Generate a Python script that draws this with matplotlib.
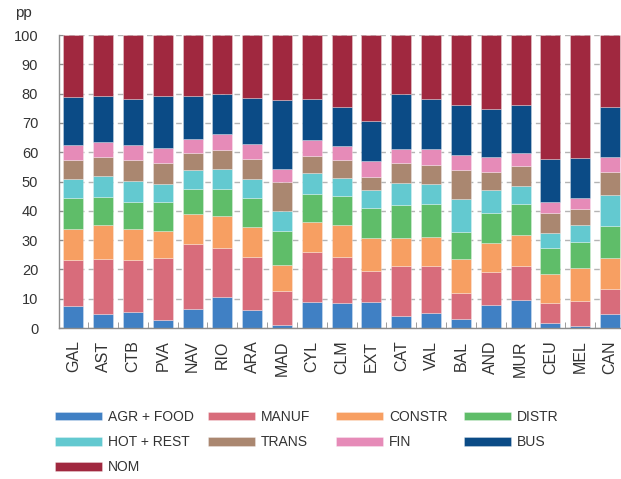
import matplotlib
matplotlib.use("Agg")
import matplotlib.pyplot as plt
import numpy as np

plt.rcParams['font.family'] = ['Liberation Sans', 'DejaVu Sans']

# regions and sector contributions (pp)
regions = ["GAL", "AST", "CTB", "PVA", "NAV", "RIO", "ARA", "MAD", "CYL", "CLM",
           "EXT", "CAT", "VAL", "BAL", "AND", "MUR", "CEU", "MEL", "CAN"]
sectors = ["AGR + FOOD", "MANUF", "CONSTR", "DISTR", "HOT + REST",
           "TRANS", "FIN", "BUS", "NOM"]
colors = ["#4080c4", "#d86c7b", "#f79f62", "#5fbd69", "#63c9d0",
          "#aa8770", "#e68bb8", "#0b4b86", "#a0283f"]

agr = [7.6, 4.7, 5.6, 2.8, 6.6, 10.5, 6.0, 1.0, 9.0, 8.5, 8.9, 4.1, 5.1, 3.1, 7.8, 9.5, 1.7, 0.6, 4.7]
manuf = [15.7, 18.8, 17.7, 21.1, 21.9, 16.7, 18.4, 11.5, 16.8, 15.7, 10.4, 17.0, 15.9, 8.9, 11.2, 11.5, 6.9, 8.6, 8.5]
constr = [10.6, 11.5, 10.6, 9.3, 10.5, 11.0, 10.0, 9.1, 10.3, 10.9, 11.5, 9.5, 10.0, 11.6, 10.1, 10.8, 9.8, 11.3, 10.7]
distr = [10.5, 9.7, 9.1, 9.8, 8.4, 9.4, 10.1, 11.6, 9.8, 9.9, 10.0, 11.3, 11.3, 9.0, 10.1, 10.5, 8.9, 8.9, 10.9]
hot = [6.4, 7.2, 7.2, 6.2, 6.5, 6.8, 6.4, 6.6, 7.1, 6.1, 6.2, 7.6, 6.8, 11.4, 8.0, 6.1, 5.2, 5.7, 10.7]
trans = [6.6, 6.6, 7.0, 7.1, 5.9, 6.2, 6.9, 10.0, 5.8, 6.3, 4.5, 6.8, 6.6, 9.8, 6.0, 6.9, 6.7, 5.5, 7.9]
fin = [5.0, 5.1, 5.1, 5.0, 4.6, 5.5, 5.0, 4.4, 5.3, 4.8, 5.4, 4.7, 5.3, 5.1, 5.0, 4.4, 3.9, 3.8, 4.9]
bus = [16.4, 15.7, 15.8, 18.0, 14.9, 13.8, 15.6, 23.5, 14.2, 13.1, 13.7, 18.9, 17.1, 17.2, 16.5, 16.3, 14.5, 13.6, 17.0]
nom = [21.2, 20.7, 21.9, 20.7, 20.7, 20.1, 21.6, 22.3, 21.7, 24.7, 29.4, 20.1, 21.9, 23.9, 25.3, 24.0, 42.4, 42.0, 24.7]

series = [agr, manuf, constr, distr, hot, trans, fin, bus, nom]
yticks = list(range(0, 101, 10))

txt = "#333333"
spine_col = "#8c8c8c"

fig = plt.figure(figsize=(6.21, 4.79), dpi=100)
ax = fig.add_axes([59 / 621, 151 / 479, 1 - 59 / 621, 293 / 479])

x = np.arange(len(regions))
bottom = np.zeros(len(regions))
for vals, name, col in zip(series, sectors, colors):
    vals = np.array(vals)
    ax.bar(x, vals, width=0.67, bottom=bottom, color=col, label=name,
           edgecolor=(1, 1, 1, 0.5), linewidth=0.4, zorder=2)
    bottom += vals

ax.set_xlim(-0.48, 18.37)
ax.set_ylim(0, 100)
ax.set_yticks(yticks)
ax.set_xticks(x)
ax.set_xticklabels(regions, rotation=90, fontsize=11.5, color=txt)
ax.set_xticks(x[:-1] + 0.5, minor=True)
ax.tick_params(axis='x', which='major', length=0, pad=9)
ax.tick_params(axis='x', which='minor', direction='in', length=4, color=spine_col)
ax.tick_params(axis='y', direction='in', length=3, color=spine_col,
               labelsize=10.5, labelcolor=txt, pad=15)

ax.yaxis.grid(True, linestyle=(0, (4, 3)), color="#b4b4b4", linewidth=1)
ax.set_axisbelow(True)
for s in ['top', 'right']:
    ax.spines[s].set_visible(False)
for s in ['left', 'bottom']:
    ax.spines[s].set_color(spine_col)
    ax.spines[s].set_linewidth(1)

fig.text(15 / 621, 1 - 13 / 479, "pp", fontsize=11, color=txt, va='center', ha='left')

# legend: four columns placed at fixed positions, filled row by row
handles, labels = ax.get_legend_handles_labels()
col_x = [55, 208, 336, 464]
for c, cx in enumerate(col_x):
    idx = list(range(c, len(handles), 4))
    leg = fig.legend([handles[i] for i in idx], [labels[i] for i in idx],
                     loc='upper left', bbox_to_anchor=(cx / 621, 1 - 410 / 479),
                     frameon=False, fontsize=10, handlelength=3.4, handleheight=0.58,
                     handletextpad=0.42, labelspacing=0.8,
                     borderpad=0, borderaxespad=0, labelcolor=txt)

fig.savefig("out.png", dpi=100)
